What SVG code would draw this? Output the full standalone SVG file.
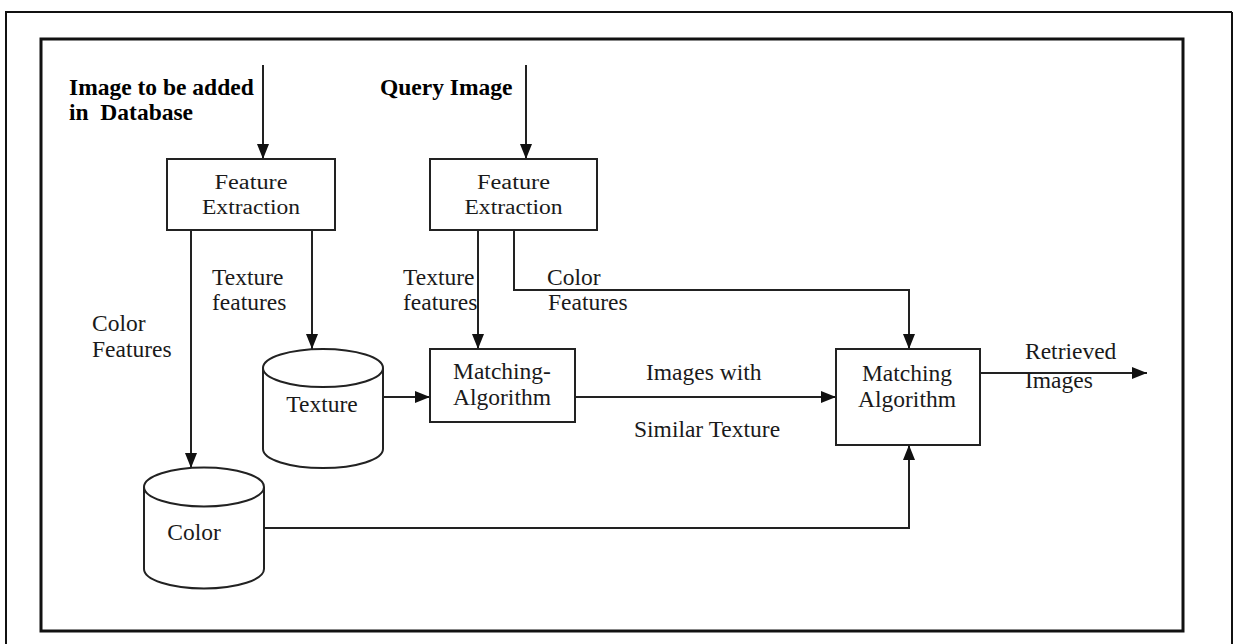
<svg xmlns="http://www.w3.org/2000/svg" width="1234" height="644" viewBox="0 0 1234 644">
  <style>
    .frame { fill: none; stroke: #111; }
    .box { fill: #fff; stroke: #222; stroke-width: 2; }
    .wire { fill: none; stroke: #222; stroke-width: 2; }
    .lbl { font-family: "Liberation Serif", "Times New Roman", serif; font-size: 23.5px; fill: #1a1a1a; }
    .tight { font-size: 20px; }
    .bold { font-weight: bold; fill: #000; }
    .mid { text-anchor: middle; }
  </style>
  <defs>
    <marker id="arrow" markerUnits="userSpaceOnUse" markerWidth="16" markerHeight="12" refX="15" refY="6" orient="auto">
      <path d="M0,0 L15,6 L0,12 Z" fill="#111"/>
    </marker>
  </defs>

  <rect width="1234" height="644" fill="#fff"/>

  <!-- page frame -->
  <g id="frame">
    <path class="frame" stroke-width="2" d="M5,12 H1232 M6,12 V644 M1232,12 V644"/>
    <rect class="frame" stroke-width="3" x="41" y="39" width="1142" height="592"/>
  </g>

  <!-- input labels -->
  <g id="input-db">
    <text class="lbl bold" x="69" y="95">Image to be added</text>
    <text class="lbl bold" x="69" y="120" xml:space="preserve">in  Database</text>
  </g>
  <g id="input-query">
    <text class="lbl bold" x="380" y="95">Query Image</text>
  </g>

  <!-- connectors -->
  <g id="connectors" class="wire">
    <path d="M263,65 V159" marker-end="url(#arrow)"/>
    <path d="M526,65 V159" marker-end="url(#arrow)"/>
    <path d="M191,230 V468" marker-end="url(#arrow)"/>
    <path d="M312,230 V349" marker-end="url(#arrow)"/>
    <path d="M478,230 V349" marker-end="url(#arrow)"/>
    <path d="M514,230 V290 H909 V349" marker-end="url(#arrow)"/>
    <path d="M383,397 H430" marker-end="url(#arrow)"/>
    <path d="M575,397 H836" marker-end="url(#arrow)"/>
    <path d="M264,528 H909 V445" marker-end="url(#arrow)"/>
    <path d="M980,373 H1147" marker-end="url(#arrow)"/>
  </g>

  <!-- connector labels -->
  <g id="edge-labels" class="lbl">
    <text x="212" y="285">Texture</text>
    <text x="212" y="310">features</text>
    <text x="92" y="331">Color</text>
    <text x="92" y="357">Features</text>
    <text x="403" y="285">Texture</text>
    <text x="403" y="310">features</text>
    <text x="547" y="285">Color</text>
    <text x="548" y="310">Features</text>
    <text x="646" y="380">Images with</text>
    <text x="634" y="437">Similar Texture</text>
    <text x="1025" y="359">Retrieved</text>
    <text x="1025" y="388">Images</text>
  </g>

  <g id="fe-db">
    <rect class="box" x="167" y="159" width="168" height="71"/>
    <text class="lbl tight mid" x="251" y="189" textLength="73" lengthAdjust="spacingAndGlyphs">Feature</text>
    <text class="lbl tight mid" x="251" y="214" textLength="98" lengthAdjust="spacingAndGlyphs">Extraction</text>
  </g>

  <g id="fe-query">
    <rect class="box" x="430" y="159" width="167" height="71"/>
    <text class="lbl tight mid" x="513.5" y="189" textLength="73" lengthAdjust="spacingAndGlyphs">Feature</text>
    <text class="lbl tight mid" x="513.5" y="214" textLength="98" lengthAdjust="spacingAndGlyphs">Extraction</text>
  </g>

  <g id="texture-db">
    <path class="box" d="M263,368 A60,19 0 0,1 383,368 V449 A60,19 0 0,1 263,449 Z"/>
    <path class="wire" d="M263,368 A60,19 0 0,0 383,368"/>
    <text class="lbl mid" x="322" y="412">Texture</text>
  </g>

  <g id="color-db">
    <path class="box" d="M144,487 A60,19.5 0 0,1 264,487 V569 A60,19.5 0 0,1 144,569 Z"/>
    <path class="wire" d="M144,487 A60,19.5 0 0,0 264,487"/>
    <text class="lbl mid" x="194" y="540" font-size="25">Color</text>
  </g>

  <g id="texture-match">
    <rect class="box" x="430" y="349" width="145" height="73"/>
    <text class="lbl mid" x="502" y="379">Matching-</text>
    <text class="lbl mid" x="502" y="405">Algorithm</text>
  </g>

  <g id="final-match">
    <rect class="box" x="836" y="349" width="144" height="96"/>
    <text class="lbl mid" x="907" y="381">Matching</text>
    <text class="lbl mid" x="907" y="407">Algorithm</text>
  </g>
</svg>
